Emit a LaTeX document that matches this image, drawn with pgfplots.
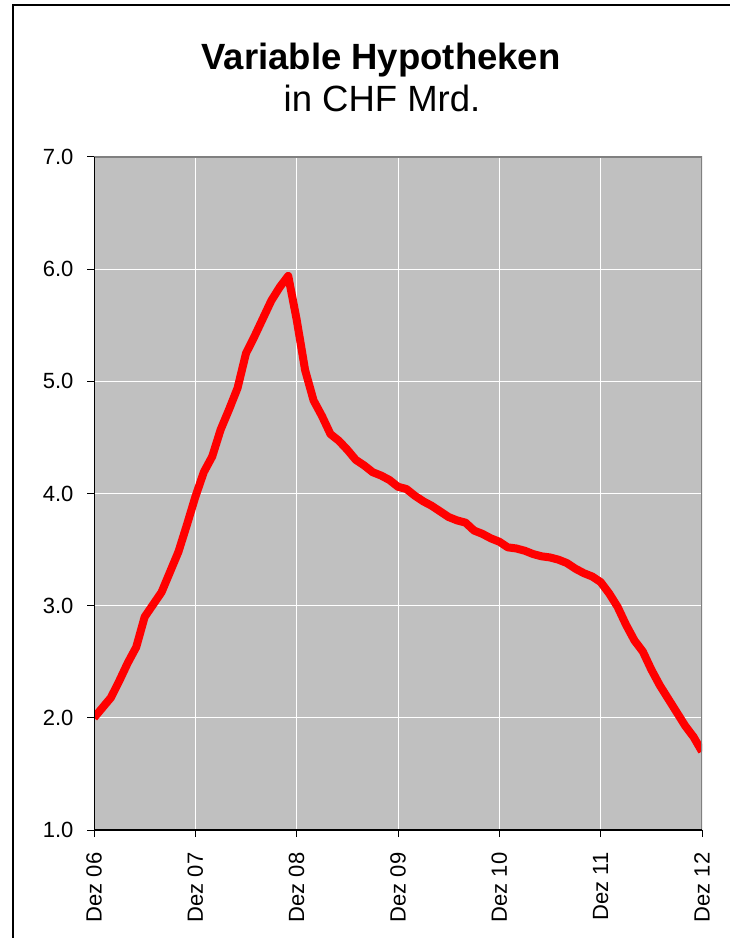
\documentclass[border=0pt]{standalone}
\usepackage{pgfplots}
\pgfplotsset{compat=1.18}
\usepackage{fontspec}
\setmainfont{Liberation Sans}
\definecolor{plotbg}{HTML}{C0C0C0}
\definecolor{frame}{HTML}{808080}

\pgfplotstableread{
m v
0 2.00
1 2.09
2 2.18
3 2.33
4 2.49
5 2.63
6 2.90
7 3.01
8 3.12
9 3.30
10 3.48
11 3.72
12 3.97
13 4.19
14 4.33
15 4.57
16 4.75
17 4.94
18 5.25
19 5.40
20 5.56
21 5.72
22 5.84
23 5.94
24 5.55
25 5.10
26 4.83
27 4.69
28 4.53
29 4.47
30 4.39
31 4.30
32 4.25
33 4.19
34 4.16
35 4.12
36 4.06
37 4.04
38 3.98
39 3.93
40 3.89
41 3.84
42 3.79
43 3.76
44 3.74
45 3.67
46 3.64
47 3.60
48 3.57
49 3.52
50 3.51
51 3.49
52 3.46
53 3.44
54 3.43
55 3.41
56 3.38
57 3.33
58 3.29
59 3.26
60 3.21
61 3.11
62 2.99
63 2.83
64 2.69
65 2.59
66 2.43
67 2.29
68 2.17
69 2.05
70 1.93
71 1.83
72 1.70
}\hypo

\begin{document}
\begin{tikzpicture}[x=1pt,y=1pt]
\useasboundingbox (0,0) rectangle (730,938);
% outer chart frame (only top and left edges are inside the picture)
\draw[black, line width=2pt] (13,-5) -- (13,933) -- (740,933);

\node[anchor=base, font=\fontsize{36.5}{40}\selectfont\bfseries] at (381,868) {Variable Hypotheken};
\node[anchor=base, font=\fontsize{36.5}{40}\selectfont] at (382,826) {in CHF Mrd.};

\begin{axis}[
    at={(94pt,108pt)}, anchor=south west,
    scale only axis,
    width=608pt, height=673pt,
    xmin=0, xmax=72, ymin=1, ymax=7,
    xtick={0,12,24,36,48,60,72},
    xticklabels={Dez 06,Dez 07,Dez 08,Dez 09,Dez 10,Dez 11,Dez 12},
    ytick={1,2,3,4,5,6,7},
    yticklabels={1.0,2.0,3.0,4.0,5.0,6.0,7.0},
    xtick pos=lower, ytick pos=left,
    tick align=outside,
    major tick length=7pt,
    tick style={black, line width=1pt},
    ticklabel style={font=\fontsize{22}{26}\selectfont},
    yticklabel style={xshift=-10pt},
    xticklabel style={rotate=90, anchor=east, xshift=-12pt},
    axis background/.style={fill=plotbg},
    grid=major,
    major grid style={white, line width=1pt},
    axis line style={draw=none},
    clip=true,
]
\addplot[red, line width=8pt, line join=round, line cap=butt] table[x=m, y=v] {\hypo};
\draw[frame, line width=2.5pt] (rel axis cs:0,1) -- (rel axis cs:1,1) -- (rel axis cs:1,0);
\draw[black, line width=1.5pt] (rel axis cs:0,1) -- (rel axis cs:0,0) -- (rel axis cs:1,0);
\end{axis}
\end{tikzpicture}
\end{document}
